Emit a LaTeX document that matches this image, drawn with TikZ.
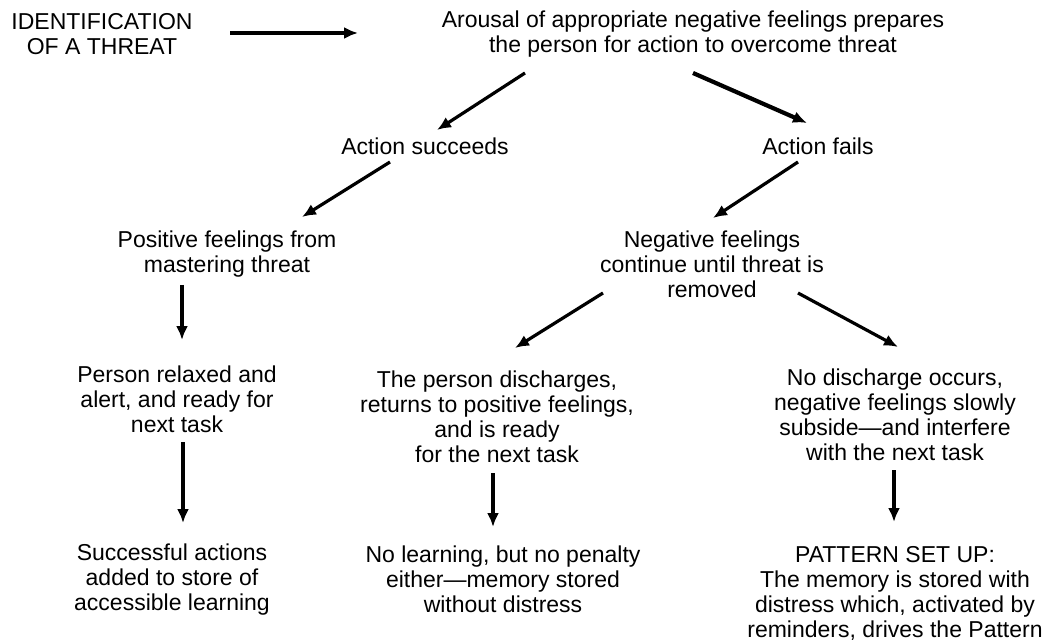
\documentclass[tikz,border=0pt]{standalone}
\usepackage{fontspec}
\setmainfont{Liberation Sans}
\usetikzlibrary{arrows.meta}
\begin{document}
\begin{tikzpicture}[x=1pt,y=-1pt,
  txt/.style={anchor=base,inner sep=0pt,align=center,
    font=\fontsize{23}{25}\selectfont},
  arr/.style={line width=3.2pt,-{Latex[length=14pt,width=12pt]}},
  heavyarr/.style={arr,line width=4.2pt}]
\fill[white] (0,0) rectangle (1052,644);
\useasboundingbox (0,0) rectangle (1052,644);

% statements, placed by the baseline of their last line
\node[txt] (ident)   at (102,55)  {IDENTIFICATION\\OF A THREAT};
\node[txt] (arousal) at (693,53)  {Arousal of appropriate negative feelings prepares\\the person for action to overcome threat};
\node[txt] (succ)    at (425,155) {Action succeeds};
\node[txt] (fails)   at (818,155) {Action fails};
\node[txt] (pos)     at (227,273) {Positive feelings from\\mastering threat};
\node[txt] (neg)     at (712,298) {Negative feelings\\continue until threat is\\removed};
\node[txt] (relax)   at (177,432) {Person relaxed and\\alert, and ready for\\next task};
\node[txt] (disch)   at (497,462) {The person discharges,\\returns to positive feelings,\\and is ready\\for the next task};
\node[txt] (nodis)   at (895,460) {No discharge occurs,\\negative feelings slowly\\subside—and interfere\\with the next task};
\node[txt] (succact) at (172,610) {Successful actions\\added to store of\\accessible learning};
\node[txt] (nolearn) at (503,612) {No learning, but no penalty\\either—memory stored\\without distress};
\node[txt] (pattern) at (895,637) {PATTERN SET UP:\\The memory is stored with\\distress which, activated by\\reminders, drives the Pattern};

% connectors
\draw[arr] ([shift={(128,-22)}]ident.base) -- ([shift={(-335,-20)}]arousal.base);
\draw[arr] ([shift={(-168,20)}]arousal.base) -- ([shift={(12,-25)}]succ.base);
\draw[heavyarr] ([shift={(0,20)}]arousal.base) -- ([shift={(-11,-32)}]fails.base);
\draw[arr] ([shift={(-35,7)}]succ.base) -- ([shift={(75,-56)}]pos.base);
\draw[arr] ([shift={(-20,7)}]fails.base) -- ([shift={(1,-80)}]neg.base);
\draw[arr] ([shift={(-45,12)}]pos.base) -- ([shift={(5,-92)}]relax.base);
\draw[arr] ([shift={(-109,-5)}]neg.base) -- ([shift={(18,-114)}]disch.base);
\draw[arr] ([shift={(86,-5)}]neg.base) -- ([shift={(3,-113)}]nodis.base);
\draw[arr] ([shift={(6,10)}]relax.base) -- ([shift={(11,-87)}]succact.base);
\draw[arr] ([shift={(-4,11)}]disch.base) -- ([shift={(-10,-85)}]nolearn.base);
\draw[arr] ([shift={(-1,10)}]nodis.base) -- ([shift={(-1,-115)}]pattern.base);
\end{tikzpicture}
\end{document}
